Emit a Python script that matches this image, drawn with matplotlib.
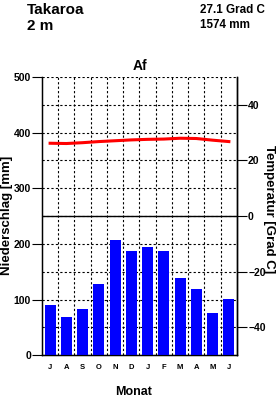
import numpy as np
import matplotlib
matplotlib.use("Agg")
import matplotlib.pyplot as plt

plt.rcParams['font.family'] = ['Liberation Sans', 'DejaVu Sans']
plt.rcParams['font.weight'] = 'bold'

station = "Takaroa"
height = "2 m"
mean_temp = "27.1 Grad C"
total_precip = "1574 mm"
climate = "Af"

months = ['J', 'A', 'S', 'O', 'N', 'D', 'J', 'F', 'M', 'A', 'M', 'J']
precip = [90, 69, 83, 128, 207, 188, 195, 188, 139, 119, 76, 101]
temp = [26.2, 26.1, 26.4, 26.8, 27.1, 27.4, 27.6, 27.7, 28.0, 27.9, 27.3, 26.8]

fig = plt.figure(figsize=(2.77, 3.99), dpi=100)
ax = fig.add_axes([0.1516, 0.1095, 0.704, 0.6975])
x = np.arange(len(months))

ax.bar(x, precip, width=0.68, color='#0000ff', zorder=3)
ax.set_xlim(-0.5, 11.5)
ax.set_ylim(0, 500)
ax.set_yticks(range(0, 501, 100))
ax.set_yticks(range(50, 501, 100), minor=True)
ax.set_xticks(x)
ax.set_xticklabels(months, fontsize=5.5, fontweight='bold')
ax.set_xticks(np.arange(0.5, 11, 1), minor=True)
ax.tick_params(axis='x', which='both', length=0, pad=6)
ax.tick_params(axis='y', which='major', length=7, width=0.8, labelsize=7.5, pad=1)
ax.tick_params(axis='y', which='minor', length=0)
ax.xaxis.grid(which='minor', color='black', linestyle=(0, (2, 2)), linewidth=0.8, zorder=1)
ax.yaxis.grid(which='both', color='black', linestyle=(0, (2, 2)), linewidth=0.8, zorder=1)
ax.spines['top'].set_visible(False)
for s in ['left', 'right', 'bottom']:
    ax.spines[s].set_linewidth(1)

ax2 = ax.twinx()
ax2.set_ylim(-50, 50)
ax2.set_yticks([-40, -20, 0, 20, 40])
ax2.tick_params(axis='y', length=7, width=0.8, labelsize=7.5, pad=1)
ax2.axhline(0, color='black', linewidth=1, zorder=2)
ax2.plot(x, temp, color='#ff0000', linewidth=2.2, zorder=4)
ax2.spines['top'].set_visible(False)
ax2.spines['right'].set_linewidth(1)

ax.set_title(climate, fontsize=10, fontweight='bold', pad=5)

fig.text(7 / 277, 1 - 215 / 399, "Niederschlag [mm]", fontsize=9.5, fontweight='bold',
         rotation=90, ha='center', va='center')
fig.text(269 / 277, 1 - 209 / 399, "Temperatur [Grad C]", fontsize=9.5, fontweight='bold',
         rotation=270, ha='center', va='center')
fig.text(134 / 277, 1 - 392 / 399, "Monat", fontsize=9, fontweight='bold',
         ha='center', va='center')

fig.text(27 / 277, 1 - 10 / 399, station, fontsize=11, fontweight='bold', va='center')
fig.text(27 / 277, 1 - 26 / 399, height, fontsize=11, fontweight='bold', va='center')
fig.text(200 / 277, 1 - 10 / 399, mean_temp, fontsize=8.4, fontweight='bold', va='center')
fig.text(200 / 277, 1 - 25 / 399, total_precip, fontsize=8.4, fontweight='bold', va='center')

fig.savefig("out.png", dpi=100)
